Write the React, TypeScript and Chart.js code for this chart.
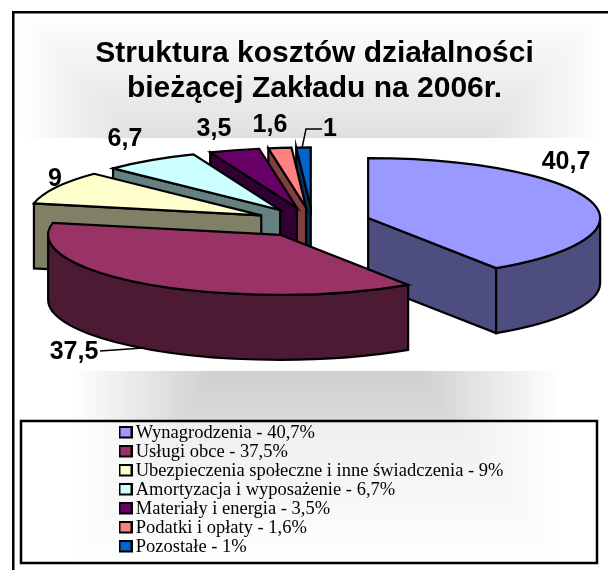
import React, { useEffect, useRef } from "react";
import { Chart, registerables } from "chart.js";

Chart.register(...registerables);

// ---- data ----
const categories = [
  "Wynagrodzenia",
  "Usługi obce",
  "Ubezpieczenia społeczne i inne świadczenia",
  "Amortyzacja i wyposażenie",
  "Materiały i energia",
  "Podatki i opłaty",
  "Pozostałe",
];
const values = [40.7, 37.5, 9, 6.7, 3.5, 1.6, 1];
const titleLines = ["Struktura kosztów działalności", "bieżącej Zakładu na 2006r."];
const topColors = ["#9999FF", "#993366", "#FFFFCC", "#CCFFFF", "#660066", "#FF8080", "#0066CC"];
const sideColors = ["#4D4D80", "#4D1A33", "#808066", "#668080", "#330033", "#804040", "#003366"];

// ---- presentation ----
const paintOrder = [6, 5, 4, 3, 2, 0, 1];
const PIE_CENTER = { x: 312.6, y: 222.4 };
const RADIUS = 232;
const SQUASH = 60 / 232;
const EXPLODE = 58;
const DEPTH = 65;
const labelSpots = [
  { x: 566, y: 162 },
  { x: 74, y: 352 },
  { x: 55, y: 179 },
  { x: 125, y: 139 },
  { x: 214, y: 129 },
  { x: 270, y: 125 },
  { x: 330, y: 129 },
];
const leaders: Record<number, number[][]> = {
  1: [[100, 351], [143, 348]],
  6: [[322, 129], [306, 129], [302, 148]],
};

const fmt = (v: number) => String(v).replace(".", ",");

function legendSwatch(color: string) {
  const c = document.createElement("canvas");
  c.width = 14;
  c.height = 17;
  const g = c.getContext("2d") as CanvasRenderingContext2D;
  g.fillStyle = color;
  g.fillRect(1, 2, 12, 10.5);
  g.strokeStyle = "#000";
  g.lineWidth = 2;
  g.strokeRect(1, 2, 12, 10.5);
  return c;
}

const backdrop = {
  id: "backdrop",
  beforeDraw(chart: any) {
    const { ctx, width, height } = chart;
    const img = ctx.createImageData(width, height);
    for (let y = 0; y < height; y++) {
      for (let x = 0; x < width; x++) {
        const fx =
          y < 250
            ? 0.27 * Math.min(x - 20, 600 - x)
            : 0.33 * Math.min(x - 70, 560 - x);
        const fy = 0.248 * Math.min(y - 12, 568 - y);
        const lvl = Math.max(0, Math.min(51, Math.min(fx, fy)));
        const i = (y * width + x) * 4;
        const g = Math.round(255 - lvl);
        img.data[i] = g;
        img.data[i + 1] = g;
        img.data[i + 2] = g;
        img.data[i + 3] = 255;
      }
    }
    ctx.putImageData(img, 0, 0);
    ctx.save();
    ctx.fillStyle = "#fff";
    ctx.fillRect(20, 138, 588, 233);
    ctx.fillStyle = "#000";
    ctx.fillRect(12, 11, 596, 2.5);
    ctx.fillRect(12, 11, 2.5, 559);
    ctx.fillStyle = "rgba(255,255,255,0.55)";
    ctx.fillRect(21, 421, 576, 142);
    ctx.strokeStyle = "#000";
    ctx.lineWidth = 2.5;
    ctx.strokeRect(21, 421, 576, 142);
    ctx.restore();
  },
};

const placeLegend = {
  id: "placeLegend",
  afterLayout(chart: any) {
    const l = chart.legend;
    l.left = 124;
    l.top = 423.75;
    l.right = 590;
    l.bottom = 560;
    // the legend's own clip would cut the swatches, which sit left of its box
    l.draw = () => l._draw();
  },
};

const pie3d = {
  id: "pie3d",
  beforeDatasetDraw(chart: any) {
    const { ctx } = chart;
    const arcs = chart.getDatasetMeta(0).data;
    const rx = RADIUS;
    const ry = RADIUS * SQUASH;
    ctx.save();
    ctx.lineWidth = 2.2;
    ctx.strokeStyle = "#000";
    ctx.lineJoin = "miter";
    paintOrder.forEach((idx) => {
      const arc = arcs[idx];
      const a0 = arc.startAngle;
      const a1 = arc.endAngle;
      const mid = (a0 + a1) / 2;
      const vx = PIE_CENTER.x + EXPLODE * Math.cos(mid);
      const vy = PIE_CENTER.y + EXPLODE * SQUASH * Math.sin(mid);
      const rim = (a: number) => [vx + rx * Math.cos(a), vy + ry * Math.sin(a)];

      const wall = (a: number) => {
        const [px, py] = rim(a);
        ctx.beginPath();
        ctx.moveTo(vx, vy);
        ctx.lineTo(px, py);
        ctx.lineTo(px, py + DEPTH);
        ctx.lineTo(vx, vy + DEPTH);
        ctx.closePath();
        ctx.fillStyle = sideColors[idx];
        ctx.fill();
        ctx.stroke();
      };
      if (Math.cos(a0) < -1e-6) wall(a0);
      if (Math.cos(a1) > 1e-6) wall(a1);

      const f0 = Math.max(a0, 0);
      const f1 = Math.min(a1, Math.PI);
      if (f1 > f0) {
        ctx.beginPath();
        ctx.ellipse(vx, vy, rx, ry, 0, f0, f1);
        ctx.ellipse(vx, vy + DEPTH, rx, ry, 0, f1, f0, true);
        ctx.closePath();
        ctx.fillStyle = sideColors[idx];
        ctx.fill();
        ctx.stroke();
      }

      // top face: the library's own arc element, squashed and moved
      ctx.save();
      ctx.translate(vx, vy);
      ctx.scale(1, SQUASH);
      ctx.translate(-arc.x, -arc.y);
      arc.draw(ctx);
      ctx.restore();

      ctx.beginPath();
      ctx.moveTo(vx, vy);
      ctx.ellipse(vx, vy, rx, ry, 0, a0, a1);
      ctx.closePath();
      ctx.stroke();
    });
    ctx.restore();
    return false;
  },
  afterDraw(chart: any) {
    const { ctx } = chart;
    ctx.save();
    ctx.strokeStyle = "#000";
    ctx.lineWidth = 1.5;
    Object.values(leaders).forEach((pts) => {
      ctx.beginPath();
      pts.forEach(([x, y], i) => (i ? ctx.lineTo(x, y) : ctx.moveTo(x, y)));
      ctx.stroke();
    });
    ctx.fillStyle = "#000";
    ctx.font = 'bold 25px "Liberation Sans"';
    ctx.textAlign = "center";
    ctx.textBaseline = "middle";
    values.forEach((v, i) => ctx.fillText(fmt(v), labelSpots[i].x, labelSpots[i].y));
    ctx.restore();
  },
};

export default function App() {
  const ref = useRef<HTMLCanvasElement>(null);
  useEffect(() => {
    const chart = new Chart(ref.current as HTMLCanvasElement, {
      type: "pie",
      data: {
        labels: categories.map((c, i) => `${c} - ${fmt(values[i])}%`),
        datasets: [
          {
            data: values,
            backgroundColor: topColors,
            borderWidth: 0,
            radius: RADIUS,
          } as any,
        ],
      },
      options: {
        responsive: false,
        animation: false,
        events: [],
        layout: { padding: { left: 21 } },
        plugins: {
          tooltip: { enabled: false },
          title: {
            display: true,
            text: titleLines,
            color: "#000",
            font: { family: '"Liberation Sans"', size: 30, weight: "bold", lineHeight: 1.17 },
            padding: { top: 36, bottom: 10 },
          },
          legend: {
            display: true,
            position: "chartArea",
            align: "start",
            labels: {
              color: "#000",
              font: { family: '"Liberation Serif"', size: 18.5, lineHeight: 1 },
              usePointStyle: true,
              boxWidth: 2,
              boxHeight: 12,
              padding: 0.5,
              generateLabels(c: any) {
                const base = (Chart as any).overrides.pie.plugins.legend.labels.generateLabels(c);
                return base.map((it: any, i: number) => ({
                  ...it,
                  strokeStyle: "#000",
                  lineWidth: 2,
                  pointStyle: legendSwatch(topColors[i]),
                }));
              },
            },
          } as any,
        },
      },
      plugins: [backdrop, placeLegend, pie3d],
    } as any);
    return () => chart.destroy();
  }, []);
  return (
    <canvas
      ref={ref}
      width={608}
      height={570}
      style={{ position: "absolute", left: 0, top: 0, display: "block" }}
    />
  );
}
